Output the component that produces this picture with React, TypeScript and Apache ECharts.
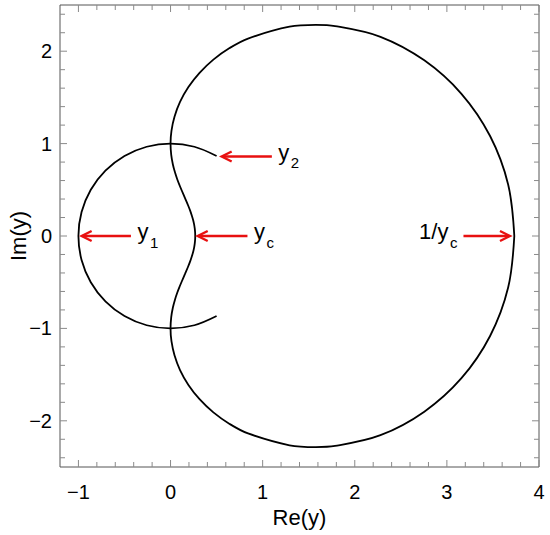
import React, { useEffect, useRef } from "react";
import * as echarts from "echarts";

// Closed curve (upper outer loop -> upper inner branch -> lower inner branch -> lower outer loop)
const upperLoop: [number, number][] = [
  [3.732, 0], [3.665, 0.558], [3.469, 1.082], [3.158, 1.539], [2.755, 1.901], [2.279, 2.156],
  [1.786, 2.272], [1.577, 2.2846], [1.292, 2.265], [0.841, 2.137], [0.641, 2.034], [0.465, 1.909], [0.315, 1.766],
  [0.194, 1.612], [0.103, 1.451], [0.043, 1.291], [0.010, 1.139], [0, 1],
];
const upperInner: [number, number][] = [
  [0.0075, 0.878], [0.0255, 0.774], [0.0489, 0.686], [0.0737, 0.612], [0.098, 0.549], [0.1205, 0.495],
  [0.1594, 0.405], [0.1901, 0.333], [0.2139, 0.272], [0.2315, 0.219], [0.2459, 0.17], [0.2559, 0.125],
  [0.2627, 0.082], [0.2667, 0.041], [0.268, 0],
];
const lowerInner: [number, number][] = [
  [0.2667, -0.041], [0.2627, -0.082], [0.2559, -0.125], [0.2459, -0.17], [0.2315, -0.219], [0.2139, -0.272],
  [0.1901, -0.333], [0.1594, -0.405], [0.1205, -0.495], [0.098, -0.549], [0.0737, -0.612], [0.0489, -0.686],
  [0.0255, -0.774], [0.0075, -0.878], [0, -1],
];
const lowerLoop: [number, number][] = [
  [0.010, -1.139], [0.043, -1.291], [0.103, -1.451], [0.194, -1.612], [0.315, -1.766], [0.465, -1.909],
  [0.641, -2.034], [0.841, -2.137], [1.292, -2.265], [1.577, -2.2846], [1.786, -2.272], [2.279, -2.156], [2.755, -1.901],
  [3.158, -1.539], [3.469, -1.082], [3.665, -0.558], [3.732, 0],
];

// Unit-circle arc (y1 branch)
const circleArc: [number, number][] = [
  [0.5, 0.866], [0.2588, 0.9659], [0, 1], [-0.2588, 0.9659], [-0.5, 0.866], [-0.7071, 0.7071],
  [-0.866, 0.5], [-0.9659, 0.2588], [-1, 0], [-0.9659, -0.2588], [-0.866, -0.5], [-0.7071, -0.7071],
  [-0.5, -0.866], [-0.2588, -0.9659], [0, -1], [0.2588, -0.9659], [0.5, -0.866],
];

// Annotation arrows: [tailX, tailY, tipX, tipY]
const arrowData: number[][] = [
  [-0.43, 0, -0.965, 0],
  [0.835, 0, 0.295, 0],
  [1.1, 0.86, 0.555, 0.86],
  [3.18, 0, 3.685, 0],
];
const arrowMain = ["y", "y", "y", "1/y"];
const arrowSub = ["1", "c", "2", "c"];

// Axis ticks
const xMajorTicks = [-1, 0, 1, 2, 3, 4];
const xMinorTicks = [-0.8, -0.6, -0.4, -0.2, 0.2, 0.4, 0.6, 0.8, 1.2, 1.4, 1.6, 1.8, 2.2, 2.4, 2.6, 2.8, 3.2, 3.4, 3.6, 3.8];
const yMajorTicks = [-2, -1, 0, 1, 2];
const yMinorTicks = [-2.4, -2.2, -1.8, -1.6, -1.4, -1.2, -0.8, -0.6, -0.4, -0.2, 0.2, 0.4, 0.6, 0.8, 1.2, 1.4, 1.6, 1.8, 2.2, 2.4];

const X_MIN = -1.2, X_MAX = 4, Y_MIN = -2.5, Y_MAX = 2.5;

const FONT = '"Liberation Sans", Arial, Helvetica, sans-serif';
const RED = "#e81010";
const TICK = "#8a8a8a";

const fmt = (v: number) => (Number.isInteger(v) ? String(v).replace("-", "\u2212") : "");

export default function App() {
  const ref = useRef<HTMLDivElement>(null);
  useEffect(() => {
    if (!ref.current) return;
    const chart = echarts.init(ref.current, undefined, { renderer: "svg" });
    const option: any = {
      animation: false,
      backgroundColor: "#ffffff",
      grid: {
        left: 60, right: 11, top: 5, bottom: 68, show: true, borderColor: "#555", borderWidth: 1,
        containLabel: false, outerBoundsMode: "none",
      },
      xAxis: {
        type: "value", min: X_MIN, max: X_MAX, splitNumber: 5,
        axisLine: { show: false }, axisTick: { show: false }, splitLine: { show: false },
        axisLabel: { formatter: fmt, color: "#000", fontSize: 20, fontFamily: FONT, margin: 15 },
        name: "Re(y)", nameLocation: "middle", nameGap: 39, nameMoveOverlap: false,
        nameTextStyle: { color: "#000", fontSize: 22, fontFamily: FONT },
      },
      yAxis: {
        type: "value", min: Y_MIN, max: Y_MAX, splitNumber: 5,
        axisLine: { show: false }, axisTick: { show: false }, splitLine: { show: false },
        axisLabel: { formatter: fmt, color: "#000", fontSize: 20, fontFamily: FONT, margin: 8 },
        name: "Im(y)", nameLocation: "middle", nameGap: 31, nameMoveOverlap: false,
        nameTextStyle: { color: "#000", fontSize: 22, fontFamily: FONT },
      },
      series: [
        {
          type: "custom", coordinateSystem: "cartesian2d", silent: true, z: 1,
          data: [[0, 0]],
          renderItem: (params: any, api: any) => {
            const cs = params.coordSys;
            const left = cs.x, top = cs.y, right = cs.x + cs.width, bottom = cs.y + cs.height;
            const children: any[] = [];
            const st = { stroke: TICK, lineWidth: 1 };
            const addX = (v: number, len: number) => {
              const px = api.coord([v, 0])[0];
              children.push({ type: "line", shape: { x1: px, y1: bottom, x2: px, y2: bottom - len }, style: st });
              children.push({ type: "line", shape: { x1: px, y1: top, x2: px, y2: top + len }, style: st });
            };
            const addY = (v: number, len: number) => {
              const py = api.coord([0, v])[1];
              children.push({ type: "line", shape: { x1: left, y1: py, x2: left + len, y2: py }, style: st });
              children.push({ type: "line", shape: { x1: right, y1: py, x2: right - len, y2: py }, style: st });
            };
            xMajorTicks.forEach((v) => addX(v, 7));
            xMinorTicks.forEach((v) => addX(v, 5));
            yMajorTicks.forEach((v) => addY(v, 7));
            yMinorTicks.forEach((v) => addY(v, 5));
            return { type: "group", children };
          },
        },
        {
          type: "line", data: circleArc, showSymbol: false, smooth: 0.35, silent: true, z: 2,
          lineStyle: { color: "#000", width: 1.8 },
        },
        {
          type: "line", data: [...upperLoop, ...upperInner, ...lowerInner, ...lowerLoop],
          showSymbol: false, smooth: 0.35, silent: true, z: 2,
          lineStyle: { color: "#000", width: 1.8 },
        },
        {
          type: "custom", coordinateSystem: "cartesian2d", silent: true, z: 3,
          data: arrowData,
          renderItem: (params: any, api: any) => {
            const i = params.dataIndex;
            const tail = api.coord([api.value(0), api.value(1)]);
            const tip = api.coord([api.value(2), api.value(3)]);
            const dir = tail[0] > tip[0] ? 1 : -1;
            const children: any[] = [
              { type: "line", shape: { x1: tail[0], y1: tail[1], x2: tip[0] + dir * 1, y2: tip[1] }, style: { stroke: RED, lineWidth: 2.6 } },
              {
                type: "polyline",
                shape: { points: [[tip[0] + dir * 10, tip[1] - 5], [tip[0], tip[1]], [tip[0] + dir * 10, tip[1] + 5]] },
                style: { stroke: RED, lineWidth: 2.4, fill: "none" },
              },
            ];
            if (dir > 0) {
              const x0 = tail[0] + 6.5;
              children.push({ type: "text", x: x0, y: tail[1] - 4.3, style: { text: arrowMain[i], fill: "#000", fontSize: 22, fontFamily: FONT, align: "left", verticalAlign: "middle" } });
              children.push({ type: "text", x: x0 + 12.5, y: tail[1] + 6.4, style: { text: arrowSub[i], fill: "#000", fontSize: 15, fontFamily: FONT, align: "left", verticalAlign: "middle" } });
            } else {
              const xr = tail[0] - 6;
              children.push({ type: "text", x: xr, y: tail[1] + 6.4, style: { text: arrowSub[i], fill: "#000", fontSize: 15, fontFamily: FONT, align: "right", verticalAlign: "middle" } });
              children.push({ type: "text", x: xr - 9, y: tail[1] - 4.3, style: { text: arrowMain[i], fill: "#000", fontSize: 22, fontFamily: FONT, align: "right", verticalAlign: "middle" } });
            }
            return { type: "group", children };
          },
        },
      ],
    };
    chart.setOption(option);
    return () => chart.dispose();
  }, []);
  return <div ref={ref} style={{ position: "fixed", left: 0, top: 0, width: 550, height: 535 }} />;
}
